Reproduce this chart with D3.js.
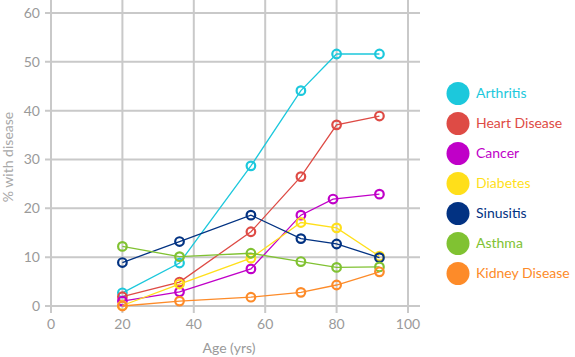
<!DOCTYPE html>
<html><head><meta charset="utf-8">
<script src="https://cdn.jsdelivr.net/npm/d3@7"></script>
<style>body{margin:0;background:#fff;}svg{display:block;font-family:Lato,"Open Sans",sans-serif;}</style>
</head><body>
<svg id="c" width="575" height="357"></svg>
<script>
const ages = [20, 36, 56, 70, 80, 92];
const seriesNames = ["Arthritis","Heart Disease","Cancer","Diabetes","Sinusitis","Asthma","Kidney Disease"];
const seriesColors = ["#1cc8dc","#de4b45","#c000c8","#ffdf1a","#023282","#80c232","#fd8b29"];
const arthritis = [2.7, 8.8, 28.7, 44.1, 51.6, 51.6];
const heartDisease = [1.9, 4.9, 15.2, 26.5, 37.1, 38.9];
const cancer = [1.0, 2.9, 7.6, 18.6, 21.9, 22.9];
const diabetes = [0.1, 4.5, 9.8, 17.1, 16.0, 10.2];
const sinusitis = [8.9, 13.2, 18.6, 13.8, 12.7, 9.9];
const asthma = [12.2, 10.1, 10.8, 9.1, 7.9, 8.0];
const kidneyDisease = [0.0, 1.0, 1.8, 2.8, 4.3, 7.0];
const seriesValues = [arthritis, heartDisease, cancer, diabetes, sinusitis, asthma, kidneyDisease];
const xTicks = [0, 20, 40, 60, 80, 100];
const yTicks = [0, 10, 20, 30, 40, 50, 60];
const xLabel = "Age (yrs)";
const yLabel = "% with disease";
// marker x positions (some series points slightly offset in the picture)
const cancerAges = [20, 36, 56, 70, 79, 92];

const svg = d3.select("#c");
const x = d3.scaleLinear().domain([0, 100]).range([51, 408]);
const y = d3.scaleLinear().domain([0, 60]).range([306, 13]);
const grid = "#c9c9c9";

// grid
svg.append("g").selectAll("line").data(xTicks).join("line")
  .attr("x1", d => x(d)).attr("x2", d => x(d))
  .attr("y1", 0).attr("y2", 313)
  .attr("stroke", grid).attr("stroke-width", 2);
svg.append("g").selectAll("line").data(yTicks).join("line")
  .attr("x1", 45).attr("x2", 420)
  .attr("y1", d => y(d)).attr("y2", d => y(d))
  .attr("stroke", grid).attr("stroke-width", 2);

// tick labels
svg.append("g").selectAll("text").data(yTicks).join("text")
  .attr("x", 40).attr("y", d => y(d)).attr("dy", "0.35em")
  .attr("text-anchor", "end").attr("font-size", 14).attr("fill", "#9a9a9a")
  .text(d => d);
svg.append("g").selectAll("text").data(xTicks).join("text")
  .attr("x", d => x(d)).attr("y", 324).attr("dy", "0.35em")
  .attr("text-anchor", "middle").attr("font-size", 14).attr("fill", "#9a9a9a")
  .text(d => d);

svg.append("text").attr("x", 229).attr("y", 348).attr("dy", "0.35em")
  .attr("text-anchor", "middle").attr("font-size", 14).attr("fill", "#9a9a9a").text(xLabel);
svg.append("text").attr("transform", "translate(8,157) rotate(-90)").attr("dy", "0.35em")
  .attr("text-anchor", "middle").attr("font-size", 14).attr("fill", "#a8a8a8").text(yLabel);

// series
const line = d3.line().x(d => x(d[0])).y(d => y(d[1]));
seriesValues.forEach((vals, i) => {
  const xs = seriesNames[i] === "Cancer" ? cancerAges : ages;
  const pts = vals.map((v, j) => [xs[j], v]);
  const g = svg.append("g");
  g.append("path").datum(pts).attr("d", line).attr("fill", "none")
    .attr("stroke", seriesColors[i]).attr("stroke-width", 1.3);
  g.selectAll("circle").data(pts).join("circle")
    .attr("cx", d => x(d[0])).attr("cy", d => y(d[1])).attr("r", 4.3)
    .attr("fill", "none").attr("stroke", seriesColors[i]).attr("stroke-width", 2.2);
});

// legend
const leg = svg.append("g").selectAll("g").data(seriesNames).join("g")
  .attr("transform", (d, i) => `translate(458,${93.5 + i * 30})`);
leg.append("circle").attr("r", 11.5).attr("fill", (d, i) => seriesColors[i]);
leg.append("text").attr("x", 18).attr("dy", "0.35em").attr("font-size", 14)
  .attr("fill", (d, i) => seriesColors[i]).text(d => d);
</script>
</body></html>
